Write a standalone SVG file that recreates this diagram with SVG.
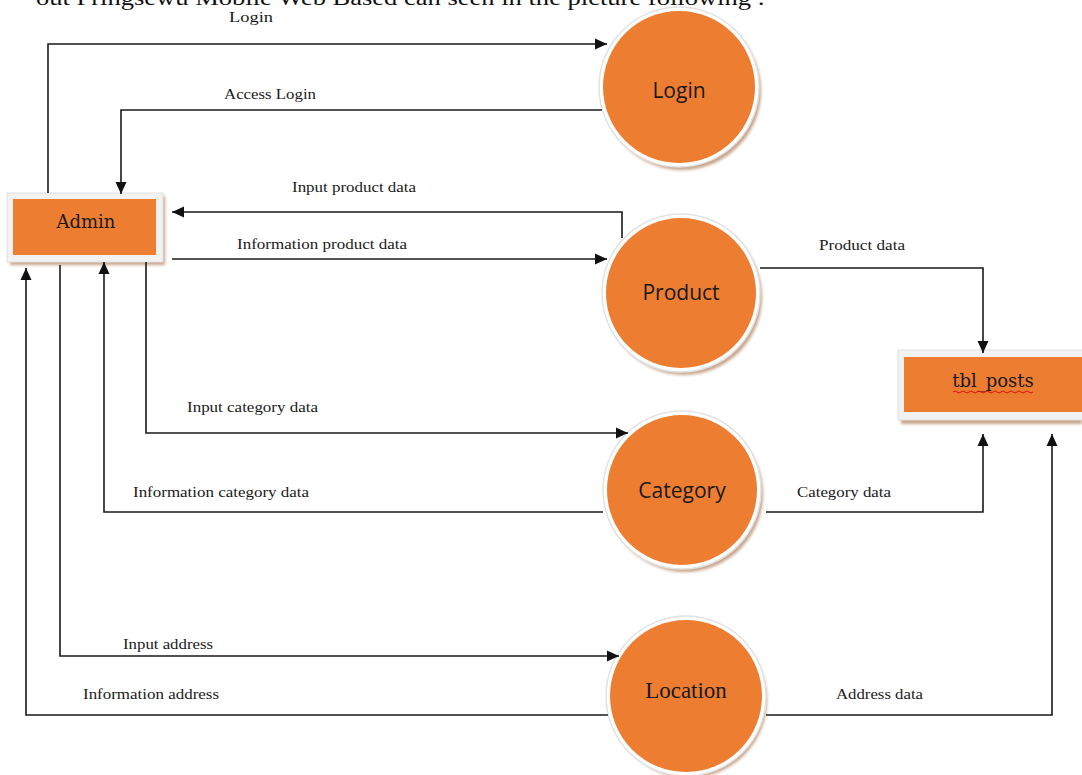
<svg xmlns="http://www.w3.org/2000/svg" width="1082" height="775" viewBox="0 0 1082 775">
<style>
.lbl{font-family:"Liberation Serif","Times New Roman",serif;font-size:15px;fill:#1a1a1a;}
.cl{font-family:"Open Sans","Liberation Sans",sans-serif;font-size:21px;fill:#1a1a1a;text-anchor:middle;}
.bl{font-family:"DejaVu Serif","Liberation Serif",serif;font-size:18px;fill:#1a1a1a;text-anchor:middle;}
.conn path{fill:none;stroke:#1a1a1a;stroke-width:1.6;}
.ring{fill:#ffffff;stroke:#e2e2e2;stroke-width:1.5;}
.orange{fill:#ED7D31;}
.shadow{fill:#c8a48a;}
</style>
<defs>
<marker id="ah" markerUnits="userSpaceOnUse" markerWidth="14" markerHeight="14" viewBox="0 0 14 14" refX="13" refY="7" orient="auto">
<path d="M1,1.5 L13,7 L1,12.5 Z" fill="#111"/>
</marker>
<filter id="blur" x="-20%" y="-20%" width="140%" height="140%"><feGaussianBlur stdDeviation="1.5"/></filter>
</defs>
<rect width="1082" height="775" fill="#ffffff"/>
<text x="36" y="5" font-family="Liberation Serif, serif" font-size="22" fill="#111" textLength="729" lengthAdjust="spacingAndGlyphs">out Pringsewu Mobile Web Based can seen in the picture following :</text>

<g id="admin">
<rect x="10" y="196" width="155" height="69" class="shadow" filter="url(#blur)"/>
<rect x="7" y="193" width="156" height="69" fill="#f2f2f2" stroke="#e0e0e0" stroke-width="1"/>
<rect x="13" y="199" width="143" height="56" class="orange"/>
<text x="86" y="228" class="bl">Admin</text>
</g>

<g id="tbl_posts">
<rect x="901" y="354" width="181" height="70" class="shadow" filter="url(#blur)"/>
<rect x="898" y="350" width="186" height="70" fill="#f2f2f2" stroke="#e0e0e0" stroke-width="1"/>
<rect x="904" y="357" width="178" height="55" class="orange"/>
<text x="993" y="387" class="bl">tbl_posts</text>
<path d="M953 392 q2 -2 4 0 t4 0 t4 0 t4 0 t4 0 t4 0 t4 0 t4 0 t4 0 t4 0 t4 0 t4 0 t4 0 t4 0 t4 0 t4 0 t4 0 t4 0 t4 0 t4 0" fill="none" stroke="#e01010" stroke-width="1"/>
</g>

<g id="login">
<circle cx="682" cy="91" r="79" class="shadow" filter="url(#blur)"/>
<circle cx="679" cy="87" r="80" class="ring"/>
<circle cx="679" cy="87" r="76" class="orange"/>
<text x="679" y="98" class="cl">Login</text>
</g>

<g id="product">
<circle cx="684" cy="297" r="78" class="shadow" filter="url(#blur)"/>
<circle cx="681" cy="293" r="79" class="ring"/>
<circle cx="681" cy="293" r="75" class="orange"/>
<text x="681" y="300" class="cl">Product</text>
</g>

<g id="category">
<circle cx="685" cy="494" r="78" class="shadow" filter="url(#blur)"/>
<circle cx="682" cy="490" r="79" class="ring"/>
<circle cx="682" cy="490" r="75" class="orange"/>
<text x="682" y="498" class="cl">Category</text>
</g>

<g id="location">
<circle cx="689" cy="700" r="78" class="shadow" filter="url(#blur)"/>
<circle cx="686" cy="696" r="80" class="ring"/>
<circle cx="686" cy="696" r="76" class="orange"/>
<text x="686" y="698" font-family="Liberation Serif, serif" font-size="23" fill="#1a1a1a" text-anchor="middle">Location</text>
</g>

<g id="connectors" class="conn">
<path d="M48 193 V44 H607" marker-end="url(#ah)"/>
<path d="M602 110 H121 V194" marker-end="url(#ah)"/>
<path d="M622 238 V212 H172" marker-end="url(#ah)"/>
<path d="M172 259 H607" marker-end="url(#ah)"/>
<path d="M760 268 H983 V353" marker-end="url(#ah)"/>
<path d="M146 262 V433 H628" marker-end="url(#ah)"/>
<path d="M603 512 H104 V262" marker-end="url(#ah)"/>
<path d="M766 512 H983 V434" marker-end="url(#ah)"/>
<path d="M60 265 V656 H619" marker-end="url(#ah)"/>
<path d="M608 715 H26 V268" marker-end="url(#ah)"/>
<path d="M766 715 H1052 V434" marker-end="url(#ah)"/>
</g>

<g id="labels">
<text x="229" y="22" class="lbl" textLength="44" lengthAdjust="spacingAndGlyphs">Login</text>
<text x="224" y="99" class="lbl" textLength="92" lengthAdjust="spacingAndGlyphs">Access Login</text>
<text x="292" y="192" class="lbl" textLength="124" lengthAdjust="spacingAndGlyphs">Input product data</text>
<text x="237" y="249" class="lbl" textLength="170" lengthAdjust="spacingAndGlyphs">Information product data</text>
<text x="819" y="250" class="lbl" textLength="86" lengthAdjust="spacingAndGlyphs">Product data</text>
<text x="187" y="412" class="lbl" textLength="131" lengthAdjust="spacingAndGlyphs">Input category data</text>
<text x="133" y="497" class="lbl" textLength="176" lengthAdjust="spacingAndGlyphs">Information category data</text>
<text x="797" y="497" class="lbl" textLength="94" lengthAdjust="spacingAndGlyphs">Category data</text>
<text x="123" y="649" class="lbl" textLength="90" lengthAdjust="spacingAndGlyphs">Input address</text>
<text x="83" y="699" class="lbl" textLength="136" lengthAdjust="spacingAndGlyphs">Information address</text>
<text x="836" y="699" class="lbl" textLength="87" lengthAdjust="spacingAndGlyphs">Address data</text>
</g>
</svg>
